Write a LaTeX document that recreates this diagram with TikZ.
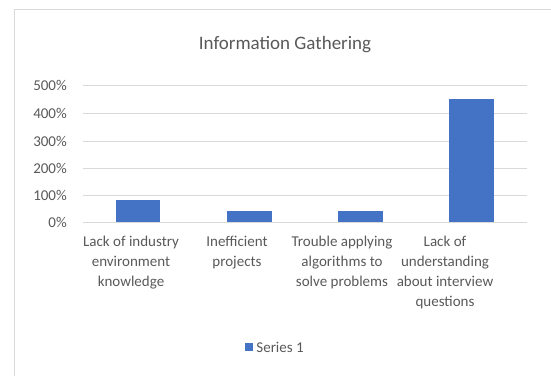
\documentclass[tikz,border=0pt]{standalone}
\usepackage{fontspec}
\setmainfont{Carlito}
\usetikzlibrary{positioning}
\definecolor{textgray}{HTML}{595959}
\definecolor{gridgray}{HTML}{D9D9D9}
\definecolor{barblue}{HTML}{4472C4}
\begin{document}
\begin{tikzpicture}[x=1bp,y=-1bp,
    font=\fontsize{15bp}{20bp}\selectfont,text=textgray,
    charttitle/.style={anchor=base,inner sep=0pt,font=\fontsize{19bp}{23bp}\selectfont},
    ticklabel/.style={anchor=base east,inner sep=0pt},
    catlabel/.style={anchor=base,inner sep=0pt,align=center},
    gridline/.style={draw=gridgray,line width=1bp},
    barfill/.style={fill=barblue}]
      \useasboundingbox (0,0) rectangle (551,376);
      \draw[gridgray,line width=1bp] (551,9) -- (14,9) -- (14,376);
      \node[charttitle] (title) at (285,49) {Information Gathering};
      \draw
        (67,90) node[ticklabel] (y5){500\%}
        (67,118) node[ticklabel] (y4){400\%}
        (67,146) node[ticklabel] (y3){300\%}
        (67,173) node[ticklabel] (y2){200\%}
        (67,200) node[ticklabel] (y1){100\%}
        (67,227) node[ticklabel] (y0){0\%};
      \begin{scope}[gridline]
        \draw (83,85) -- (527,85);
        \draw (83,113) -- (527,113);
        \draw (83,141) -- (527,141);
        \draw (83,168) -- (527,168);
        \draw (83,195) -- (527,195);
        \draw (83,222) -- (527,222);
      \end{scope}
      \begin{scope}[barfill]
        \fill (116,221.5) rectangle (160,200.1);
        \fill (227,221.5) rectangle (272,211.0);
        \fill (338,221.5) rectangle (383,211.0);
        \fill (449,221.5) rectangle (494,98.7);
      \end{scope}
      % base anchor sits on the last line
      \draw
        (131,286.5) node[catlabel] (c1){Lack of industry\\environment\\knowledge}
        (237,266.5) node[catlabel] (c2){Inefficient\\projects}
        (342,286.5) node[catlabel] (c3){Trouble applying\\algorithms to\\solve problems}
        (445,306.5) node[catlabel] (c4){Lack of\\understanding\\about interview\\questions};
      \node[barfill,minimum size=8bp,inner sep=0pt] (key) at (249,347) {};
      \node[right=3bp of key,inner sep=0pt] (series){Series 1};
    \end{tikzpicture}
\end{document}
